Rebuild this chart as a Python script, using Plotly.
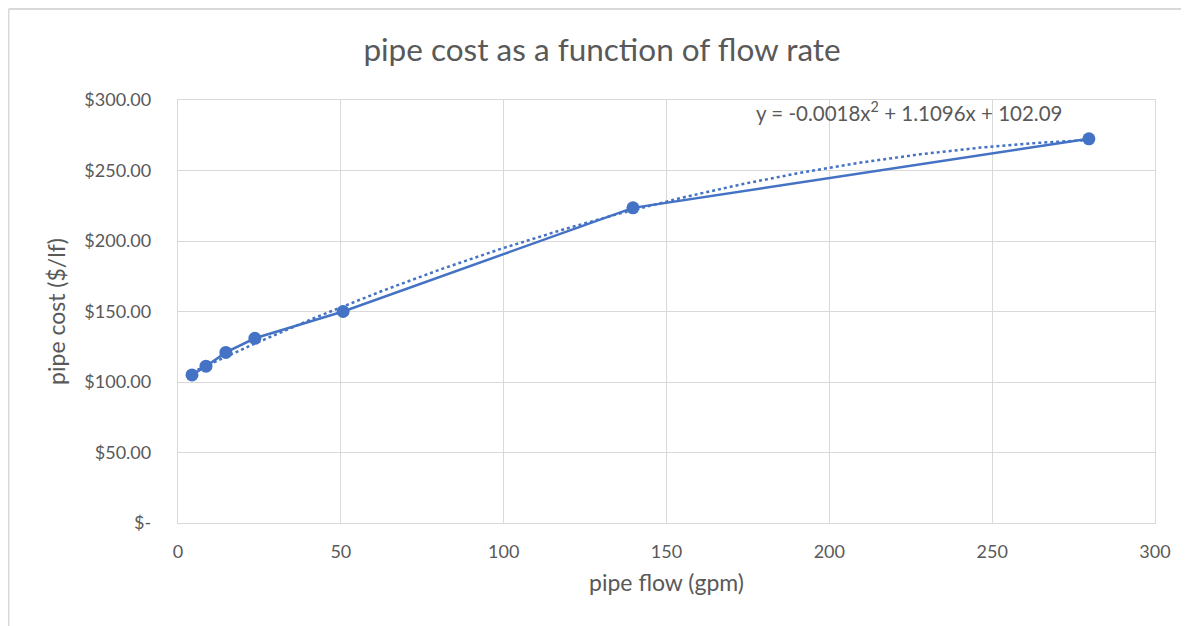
import numpy as np
import plotly.graph_objects as go

# ── Data ─────────────────────────────────────────────────────────────────────
flow_gpm = [4.3, 8.6, 14.7, 23.6, 50.7, 139.7, 279.7]
cost_per_lf = [105.0, 111.2, 121.0, 131.0, 150.0, 223.5, 272.5]

# polynomial trendline shown on the chart: y = a x^2 + b x + c
trend_coeffs = [-0.0018, 1.1096, 102.09]
trend_label = "y = -0.0018x<sup>2</sup> + 1.1096x + 102.09"

x_ticks = [0, 50, 100, 150, 200, 250, 300]
y_ticks = [0, 50, 100, 150, 200, 250, 300]
y_tick_text = ["$-", "$50.00", "$100.00", "$150.00", "$200.00", "$250.00", "$300.00"]

BLUE = "#4472C4"
GREY = "#595959"
GRID = "#D9D9D9"
FONT = "Lato, Open Sans, sans-serif"

tx = np.linspace(min(flow_gpm), max(flow_gpm), 200)
ty = np.polyval(trend_coeffs, tx)

fig = go.Figure()
fig.add_trace(go.Scatter(
    x=tx, y=ty, mode="lines", hoverinfo="skip",
    line=dict(color=BLUE, width=2.5, dash="dot"),
))
fig.add_trace(go.Scatter(
    x=flow_gpm, y=cost_per_lf, mode="lines+markers",
    line=dict(color=BLUE, width=2.5),
    marker=dict(color=BLUE, size=13),
))

_ax = dict(showgrid=True, gridcolor=GRID, gridwidth=1.3, zeroline=False,
           showline=True, linecolor=GRID, linewidth=1.3, mirror=True,
           ticks="", tickfont=dict(size=18, color=GREY, family=FONT),
           title_font=dict(size=23, color=GREY, family=FONT))

# page sits at an 8px offset in the browser, so the figure is 8px smaller
fig.update_layout(
    width=1181, height=618,
    paper_bgcolor="white", plot_bgcolor="white",
    showlegend=False,
    margin=dict(l=170, r=34, t=92, b=103),
    title=dict(text="pipe cost as a function of flow rate", x=0.503, xref="container",
               y=1 - 42 / 618, yanchor="middle",
               font=dict(size=31.5, color=GREY, family=FONT)),
    xaxis=dict(range=[0, 300], tickvals=x_ticks, ticklabelstandoff=12,
               title=dict(text="pipe flow (gpm)", standoff=14), **_ax),
    yaxis=dict(range=[0, 300], tickvals=y_ticks, ticktext=y_tick_text, ticklabelstandoff=22,
               title=dict(text="pipe cost ($/lf)", standoff=12), **_ax),
    annotations=[dict(text=trend_label, x=0.748, y=1.0, xref="paper", yref="paper",
                      xanchor="center", yanchor="top", yshift=4, showarrow=False,
                      font=dict(size=20.5, color=GREY, family=FONT))],
    shapes=[
        dict(type="line", xref="paper", yref="paper", x0=-0.1735, x1=1.04, y0=1.215, y1=1.215,
             line=dict(color=GRID, width=2)),
        dict(type="line", xref="paper", yref="paper", x0=-0.1735, x1=-0.1735, y0=1.215, y1=-0.25,
             line=dict(color=GRID, width=2)),
    ],
)

fig.write_html("out.html")
